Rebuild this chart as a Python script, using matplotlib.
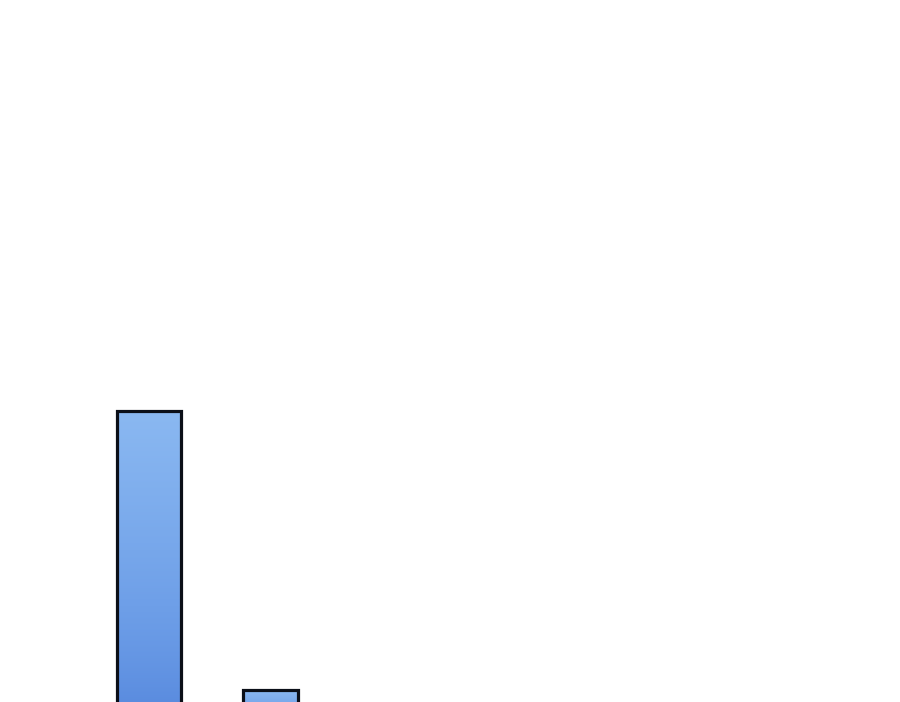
import numpy as np
import matplotlib
matplotlib.use("Agg")
import matplotlib.pyplot as plt
from matplotlib.colors import LinearSegmentedColormap

# bar data (the rest of the chart is cropped out of the picture)
categories = ["A", "B"]
values = [10, 1]
bar_widths = [0.527, 0.453]

fig = plt.figure(figsize=(9, 7.02), dpi=100)
ax = fig.add_axes([0, 0, 1, 1])
ax.axis("off")

# light blue at the top, deeper blue at the bottom
grad = LinearSegmentedColormap.from_list("bar_grad", ["#5385dc", "#6e9fe8", "#8ab8f1"])

x = np.arange(len(categories))
bars = ax.bar(x, values, width=bar_widths, facecolor="none",
              edgecolor="#0b0f18", linewidth=2.3, zorder=3)

for rect in bars:
    x0, w, h = rect.get_x(), rect.get_width(), rect.get_height()
    g = np.linspace(0, 1, 256).reshape(-1, 1) ** 0.7
    im = ax.imshow(g, cmap=grad, origin="lower", aspect="auto",
                   extent=(x0, x0 + w, 0, h), zorder=2)
    im.set_clip_path(rect)

ax.set_xlim(-1.226, 6.181)
ax.set_ylim(0.613, 23.26)

fig.savefig("out.png", dpi=100)
